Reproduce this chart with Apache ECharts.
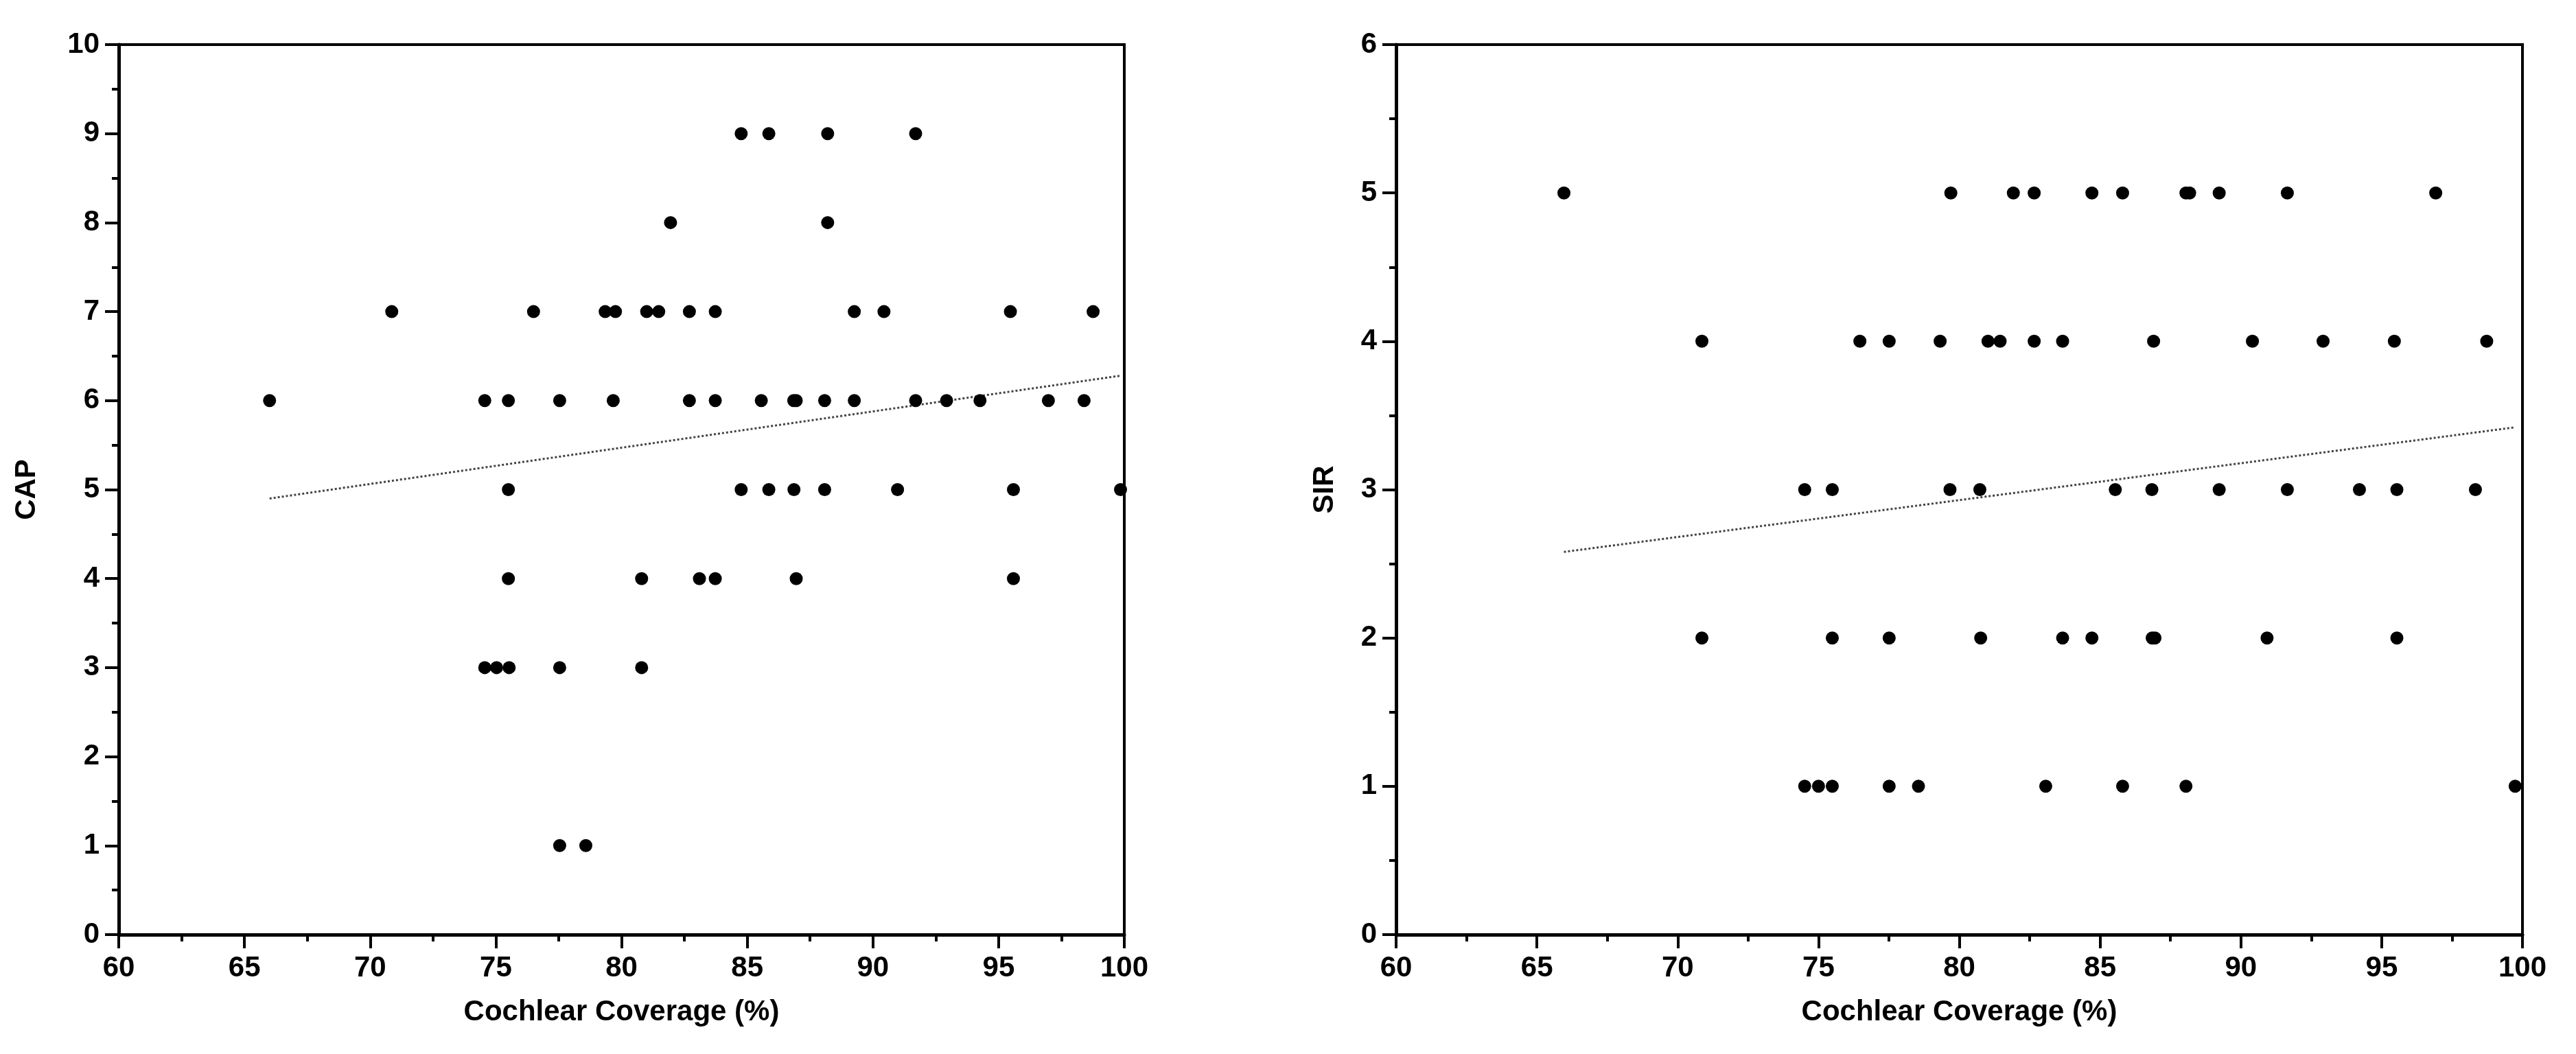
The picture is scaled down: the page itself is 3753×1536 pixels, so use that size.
<!DOCTYPE html>
<html>
<head>
<meta charset="utf-8">
<script src="https://cdn.jsdelivr.net/npm/echarts@6/dist/echarts.min.js"></script>
<style>
html,body{margin:0;padding:0;background:#fff;}
#chart{width:3753px;height:1536px;}
</style>
</head>
<body>
<div id="chart"></div>
<script>
// ---- Data ----
// Left panel: CAP vs Cochlear Coverage (%)
const capX = [
  84.76, 85.86, 88.20, 91.70,
  81.95, 88.20,
  70.86, 76.50, 79.35, 79.76, 81.00, 81.48, 82.70, 83.73, 89.26, 90.44, 95.47, 98.76,
  66.00, 74.56, 75.50, 77.54, 79.67, 82.70, 83.73, 85.56, 86.85, 86.95, 88.08, 89.26, 91.70, 92.93, 94.26, 96.98, 98.40,
  75.50, 84.76, 85.86, 86.86, 88.08, 90.98, 95.59, 99.85,
  75.50, 80.80, 83.10, 83.73, 86.95, 95.59,
  74.56, 75.03, 75.53, 77.54, 80.80,
  77.54, 78.58
];
const capY = [
  9, 9, 9, 9,
  8, 8,
  7, 7, 7, 7, 7, 7, 7, 7, 7, 7, 7, 7,
  6, 6, 6, 6, 6, 6, 6, 6, 6, 6, 6, 6, 6, 6, 6, 6, 6,
  5, 5, 5, 5, 5, 5, 5, 5,
  4, 4, 4, 4, 4, 4,
  3, 3, 3, 3, 3,
  1, 1
];
// Right panel: SIR vs Cochlear Coverage (%)
const sirX = [
  65.96, 79.70, 81.92, 82.66, 84.71, 85.80, 88.05, 88.18, 89.23, 91.65, 96.92,
  70.86, 76.47, 77.51, 79.32, 81.02, 81.45, 82.66, 83.67, 86.90, 90.41, 92.92, 95.45, 98.73,
  74.51, 75.49, 79.67, 80.73, 85.54, 86.84, 89.23, 91.65, 94.21, 95.54, 98.33,
  70.86, 75.49, 77.51, 80.76, 83.67, 84.71, 86.85, 86.95, 90.93, 95.54,
  74.51, 75.00, 75.49, 77.51, 78.55, 83.07, 85.80, 88.05, 99.74
];
const sirY = [
  5, 5, 5, 5, 5, 5, 5, 5, 5, 5, 5,
  4, 4, 4, 4, 4, 4, 4, 4, 4, 4, 4, 4, 4,
  3, 3, 3, 3, 3, 3, 3, 3, 3, 3, 3,
  2, 2, 2, 2, 2, 2, 2, 2, 2, 2,
  1, 1, 1, 1, 1, 1, 1, 1, 1
];
// Fitted trend lines (endpoints)
const capTrendX = [66.0, 99.85];
const capTrendY = [4.90, 6.28];
const sirTrendX = [65.96, 99.74];
const sirTrendY = [2.58, 3.42];

// Axis ranges / ticks
const xMin = 60, xMax = 100, xStep = 5;
const capMin = 0, capMax = 10, capStep = 1;
const sirMin = 0, sirMax = 6, sirStep = 1;
const xTitle = 'Cochlear Coverage (%)';
const capTitle = 'CAP';
const sirTitle = 'SIR';

// ---- Build ----
const zip = (xs, ys) => xs.map((x, i) => [x, ys[i]]);
const FONT = 'Liberation Sans';
const labelStyle = {color: '#000', fontFamily: FONT, fontWeight: 'bold', fontSize: 42};

function xAxis(gridIndex) {
  return {
    type: 'value', gridIndex, min: xMin, max: xMax, interval: xStep,
    name: xTitle, nameLocation: 'middle', nameGap: 92,
    nameTextStyle: {color: '#000', fontFamily: FONT, fontWeight: 'bold', fontSize: 42},
    axisLine: {show: true, onZero: false, lineStyle: {color: '#000', width: 5}},
    axisTick: {show: true, inside: false, length: 20, lineStyle: {color: '#000', width: 4}},
    minorTick: {show: true, splitNumber: 2, length: 10, lineStyle: {color: '#000', width: 4}},
    splitLine: {show: false},
    axisLabel: Object.assign({margin: 28}, labelStyle)
  };
}
function yAxis(gridIndex, min, max, step, title, gap) {
  return {
    type: 'value', gridIndex, min, max, interval: step,
    name: title, nameLocation: 'middle', nameGap: gap, nameRotate: 90,
    nameTextStyle: {color: '#000', fontFamily: FONT, fontWeight: 'bold', fontSize: 42},
    axisLine: {show: true, onZero: false, lineStyle: {color: '#000', width: 5}},
    axisTick: {show: true, inside: false, length: 20, lineStyle: {color: '#000', width: 4}},
    minorTick: {show: true, splitNumber: 2, length: 10, lineStyle: {color: '#000', width: 4}},
    splitLine: {show: false},
    axisLabel: Object.assign({margin: 28}, labelStyle)
  };
}
function scatter(idx, data) {
  return {
    type: 'scatter', xAxisIndex: idx, yAxisIndex: idx, data,
    symbol: 'circle', symbolSize: 19,
    itemStyle: {color: '#000', opacity: 1}, silent: true, z: 3
  };
}
function trend(idx, xs, ys) {
  return {
    type: 'line', xAxisIndex: idx, yAxisIndex: idx, data: zip(xs, ys),
    showSymbol: false, symbol: 'none', silent: true, z: 2,
    lineStyle: {color: '#444', width: 3, type: [3, 3]}
  };
}

const chart = echarts.init(document.getElementById('chart'), null, {renderer: 'canvas'});
chart.setOption({
  backgroundColor: '#fff',
  animation: false,
  grid: [
    {left: 173, top: 65, width: 1465, height: 1297, show: true, borderColor: '#000', borderWidth: 4, backgroundColor: 'transparent'},
    {left: 2034, top: 65, width: 1641, height: 1297, show: true, borderColor: '#000', borderWidth: 4, backgroundColor: 'transparent'}
  ],
  xAxis: [xAxis(0), xAxis(1)],
  yAxis: [
    yAxis(0, capMin, capMax, capStep, capTitle, 113),
    yAxis(1, sirMin, sirMax, sirStep, sirTitle, 83)
  ],
  series: [
    trend(0, capTrendX, capTrendY),
    scatter(0, zip(capX, capY)),
    trend(1, sirTrendX, sirTrendY),
    scatter(1, zip(sirX, sirY))
  ]
});
</script>
</body>
</html>
